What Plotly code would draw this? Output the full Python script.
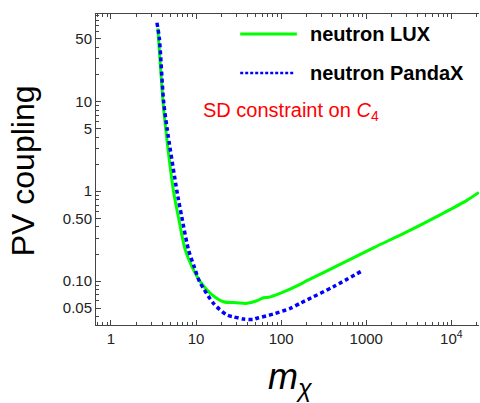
import plotly.graph_objects as go

# neutron LUX (green, solid)
lux_m = [3.55, 3.62, 4.08, 4.38, 5.43, 6.22, 7.46, 8.94, 11.2, 14.7, 21.0, 30.0, 39.5, 51.9, 62.0, 71.0,
         97.0, 167, 200, 493, 1213, 2993, 7370, 15200, 21000]
lux_c = [65, 50, 10.1, 5.09, 1.0, 0.507, 0.222, 0.1445, 0.0984, 0.0731, 0.0589, 0.0574, 0.0565, 0.0604, 0.0653, 0.0660,
         0.0731, 0.092, 0.101, 0.153, 0.234, 0.352, 0.545, 0.79, 0.97]

# neutron PandaX (blue, dotted)
pdx_m = [3.47, 3.70, 4.15, 4.55, 5.96, 6.22, 6.82, 8.15, 9.5, 10.9, 12.2, 16.0, 23.0, 27.5, 36.1, 47.3, 51.9,
         81.2, 128, 167, 200, 411, 887]
pdx_c = [75, 50, 10.1, 5.09, 1.0, 0.8, 0.507, 0.222, 0.1445, 0.1, 0.083, 0.0565, 0.0419, 0.0400, 0.0378, 0.0375, 0.0385,
         0.043, 0.0497, 0.0565, 0.0615, 0.0865, 0.1294]

x_tickvals = [1, 10, 100, 1000, 10000]
x_ticktext = ["1", "10", "100", "1000", "10<sup>4</sup>"]
y_tickvals = [0.05, 0.1, 0.5, 1, 5, 10, 50]
y_ticktext = ["0.05", "0.10", "0.50", "1", "5", "10", "50"]

x_minor = [m * 10 ** e for e in range(-1, 5) for m in range(2, 10) if 0.65 < m * 10 ** e < 21500 and m * 10 ** e not in x_tickvals]
y_minor = [round(m * 10 ** e, 6) for e in range(-2, 2) for m in range(2, 10) if 0.033 < m * 10 ** e < 93 and round(m * 10 ** e, 6) not in y_tickvals]

FONT = "Liberation Sans, Arial, sans-serif"
AXC = "#444444"

fig = go.Figure()
fig.add_trace(go.Scatter(x=lux_m, y=lux_c, mode="lines", name="neutron LUX",
                         line=dict(color="#00FF00", width=3, shape="spline", smoothing=0.8)))
fig.add_trace(go.Scatter(x=pdx_m, y=pdx_c, mode="lines", name="neutron PandaX",
                         line=dict(color="#0000FF", width=3.5, dash="4px,3px", shape="spline", smoothing=0.8)))

fig.update_layout(
    width=480, height=403,
    margin=dict(l=96, r=1, t=14, b=78),
    paper_bgcolor="white", plot_bgcolor="white",
    showlegend=False,
    font=dict(family=FONT, color="#222222", size=15),
    xaxis=dict(type="log", range=[-0.176, 4.325], tickvals=x_tickvals, ticktext=x_ticktext,
               ticks="inside", ticklen=5, tickwidth=1, tickcolor=AXC,
               minor=dict(tickvals=x_minor, ticks="inside", ticklen=3, tickcolor=AXC, showgrid=False),
               showline=True, linecolor=AXC, linewidth=1, mirror="ticks", showgrid=False, zeroline=False,
               tickfont=dict(size=15, color="#222222")),
    yaxis=dict(type="log", range=[-1.489, 1.972], tickvals=y_tickvals, ticktext=y_ticktext,
               ticks="inside", ticklen=5, tickwidth=1, tickcolor=AXC,
               minor=dict(tickvals=y_minor, ticks="inside", ticklen=3, tickcolor=AXC, showgrid=False),
               showline=True, linecolor=AXC, linewidth=1, showgrid=False, zeroline=False,
               tickfont=dict(size=15, color="#222222")),
)

# legend (manual)
fig.add_shape(type="line", xref="paper", yref="paper", x0=0.3765, x1=0.5244, y0=0.9357, y1=0.9357,
              line=dict(color="#00FF00", width=3))
fig.add_shape(type="line", xref="paper", yref="paper", x0=0.3765, x1=0.518, y0=0.8103, y1=0.8103,
              line=dict(color="#0000FF", width=2.5, dash="3px,2px"))
fig.add_annotation(text="<b>neutron LUX</b>", xref="paper", yref="paper", x=0.554, y=0.9357,
                   xanchor="left", yanchor="middle", showarrow=False, font=dict(size=20, color="black", family=FONT))
fig.add_annotation(text="<b>neutron PandaX</b>", xref="paper", yref="paper", x=0.554, y=0.8103,
                   xanchor="left", yanchor="middle", showarrow=False, font=dict(size=20, color="black", family=FONT))
fig.add_annotation(text="SD constraint on <i>C</i><sub>4</sub>", xref="paper", yref="paper", x=0.2748, y=0.685,
                   xanchor="left", yanchor="middle", showarrow=False, font=dict(size=20, color="#FF0000", family=FONT))

# axis titles
fig.add_annotation(text="PV coupling", xref="paper", yref="paper", x=-0.19, y=0.495,
                   xanchor="center", yanchor="middle", textangle=-90, showarrow=False,
                   font=dict(size=32, color="black", family=FONT))
fig.add_annotation(text="<i>m</i><sub><i>χ</i></sub>", xref="paper", yref="paper", x=0.507, y=-0.175,
                   xanchor="center", yanchor="middle", showarrow=False,
                   font=dict(size=36, color="black", family=FONT))

fig.write_html("out.html")
